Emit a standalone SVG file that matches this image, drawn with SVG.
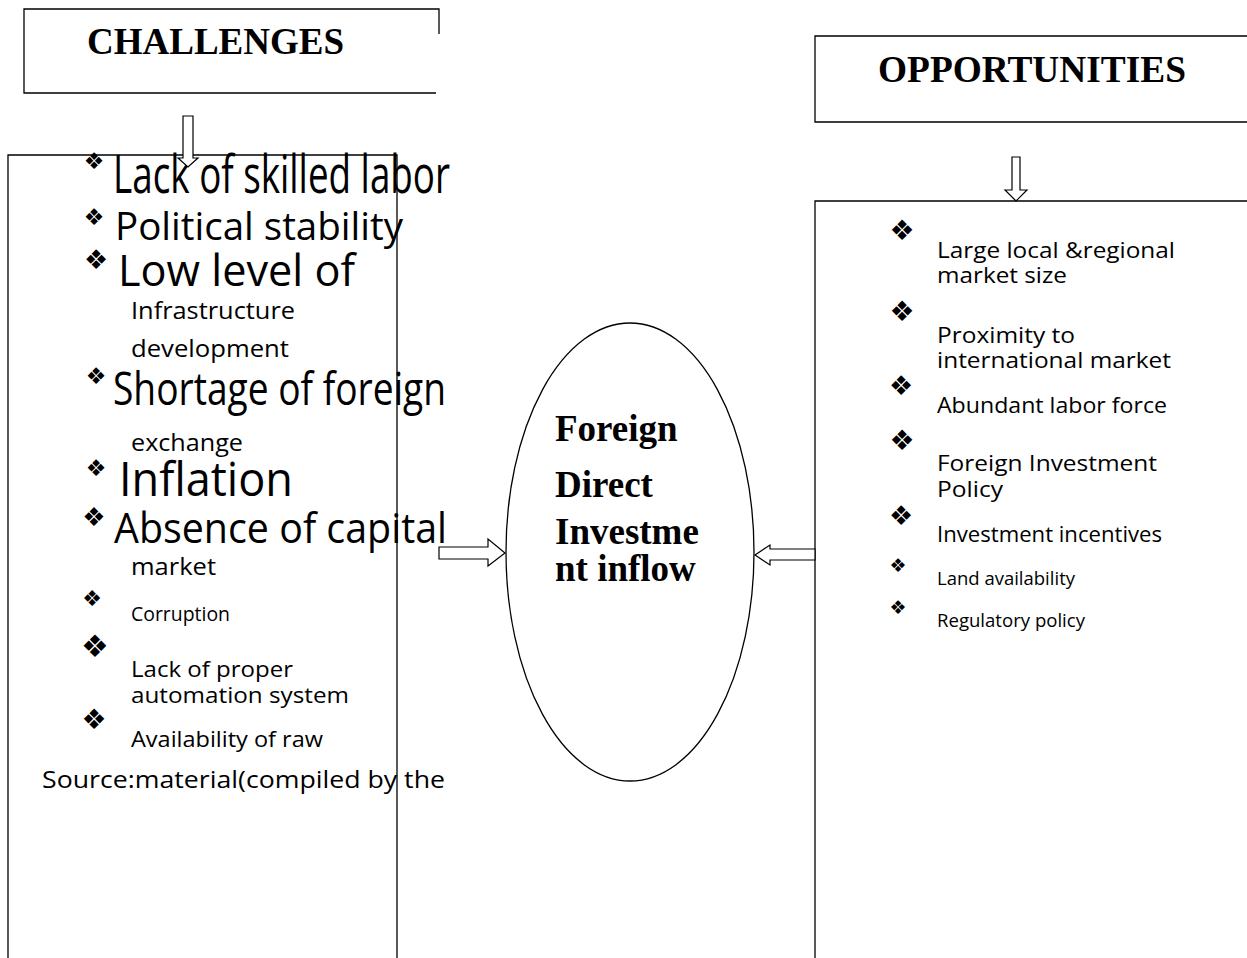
<svg xmlns="http://www.w3.org/2000/svg" width="1247" height="958" viewBox="0 0 1247 958">
  <style>
    .frame { fill: none; stroke: #000; stroke-width: 1.3; }
    .arrow { fill: #fff; stroke: #000; stroke-width: 1.2; stroke-linejoin: miter; }
    .title { font-family: "Liberation Serif", "Times New Roman", serif; font-weight: bold; font-size: 37px; fill: #000; }
    .item { font-family: "Open Sans", "Noto Sans", sans-serif; fill: #000; }
    .bul { font-family: "DejaVu Sans", sans-serif; fill: #000; text-anchor: middle; dominant-baseline: central; }
  </style>

  <rect x="0" y="0" width="1247" height="958" fill="#fff"/>

  <!-- Challenges heading box (right side left open below the corner) -->
  <g id="challenges-title">
    <polyline class="frame" points="439,34 439,9 24,9 24,93 436,93"/>
    <text class="title" x="87" y="54" textLength="257" lengthAdjust="spacingAndGlyphs">CHALLENGES</text>
  </g>

  <!-- Challenges list panel -->
  <g id="challenges-list">
    <polyline class="frame" points="8,958 8,155 397,155 397,958"/>
    <text class="bul" x="94" y="161" font-size="23">❖</text>
    <text class="item" x="113" y="193" font-size="53" textLength="337" lengthAdjust="spacingAndGlyphs">Lack of skilled labor</text>
    <text class="bul" x="94" y="217" font-size="23">❖</text>
    <text class="item" x="115" y="240" font-size="38" textLength="288" lengthAdjust="spacingAndGlyphs">Political stability</text>
    <text class="bul" x="96" y="259" font-size="27">❖</text>
    <text class="item" x="118" y="286" font-size="43" textLength="237" lengthAdjust="spacingAndGlyphs">Low level of</text>
    <text class="item" x="131" y="319" font-size="24" textLength="164" lengthAdjust="spacingAndGlyphs">Infrastructure</text>
    <text class="item" x="131" y="357" font-size="24" textLength="158" lengthAdjust="spacingAndGlyphs">development</text>
    <text class="bul" x="96" y="376" font-size="23">❖</text>
    <text class="item" x="113" y="405" font-size="46" textLength="333" lengthAdjust="spacingAndGlyphs">Shortage of foreign</text>
    <text class="item" x="131" y="451" font-size="24" textLength="112" lengthAdjust="spacingAndGlyphs">exchange</text>
    <text class="bul" x="96" y="468" font-size="23">❖</text>
    <text class="item" x="119" y="496" font-size="48" textLength="174" lengthAdjust="spacingAndGlyphs">Inflation</text>
    <text class="bul" x="94" y="517" font-size="26">❖</text>
    <text class="item" x="114" y="543" font-size="42" textLength="333" lengthAdjust="spacingAndGlyphs">Absence of capital</text>
    <text class="item" x="131" y="575" font-size="24" textLength="85" lengthAdjust="spacingAndGlyphs">market</text>
    <text class="bul" x="92" y="598" font-size="22">❖</text>
    <text class="item" x="131" y="621" font-size="20" textLength="99" lengthAdjust="spacingAndGlyphs">Corruption</text>
    <text class="bul" x="95" y="646" font-size="31">❖</text>
    <text class="item" x="131" y="677" font-size="22" textLength="162" lengthAdjust="spacingAndGlyphs">Lack of proper</text>
    <text class="item" x="131" y="703" font-size="22" textLength="218" lengthAdjust="spacingAndGlyphs">automation system</text>
    <text class="bul" x="94" y="719" font-size="28">❖</text>
    <text class="item" x="131" y="747" font-size="22" textLength="192" lengthAdjust="spacingAndGlyphs">Availability of raw</text>
    <text class="item" x="42" y="788" font-size="23" textLength="403" lengthAdjust="spacingAndGlyphs">Source:material(compiled by the</text>
  </g>

  <!-- Central FDI ellipse -->
  <g id="fdi-inflow">
    <ellipse class="frame" cx="630" cy="552" rx="124" ry="229"/>
    <text class="title" x="555" y="441">Foreign</text>
    <text class="title" x="555" y="497">Direct</text>
    <text class="title" x="555" y="544">Investme</text>
    <text class="title" x="555" y="581">nt inflow</text>
  </g>

  <!-- Opportunities heading box -->
  <g id="opportunities-title">
    <polyline class="frame" points="1247,36 815,36 815,122 1247,122"/>
    <text class="title" x="878" y="82" textLength="308" lengthAdjust="spacingAndGlyphs">OPPORTUNITIES</text>
  </g>

  <!-- Opportunities list panel -->
  <g id="opportunities-list">
    <polyline class="frame" points="815,958 815,201 1247,201"/>
    <text class="bul" x="902" y="230" font-size="28">❖</text>
    <text class="item" x="937" y="258" font-size="22" textLength="238" lengthAdjust="spacingAndGlyphs">Large local &amp;regional</text>
    <text class="item" x="937" y="283" font-size="22" textLength="130" lengthAdjust="spacingAndGlyphs">market size</text>
    <text class="bul" x="902" y="311" font-size="28">❖</text>
    <text class="item" x="937" y="343" font-size="22" textLength="138" lengthAdjust="spacingAndGlyphs">Proximity to</text>
    <text class="item" x="937" y="368" font-size="22" textLength="234" lengthAdjust="spacingAndGlyphs">international market</text>
    <text class="bul" x="901" y="385" font-size="27">❖</text>
    <text class="item" x="937" y="413" font-size="22" textLength="230" lengthAdjust="spacingAndGlyphs">Abundant labor force</text>
    <text class="bul" x="902" y="440" font-size="28">❖</text>
    <text class="item" x="937" y="471" font-size="22" textLength="220" lengthAdjust="spacingAndGlyphs">Foreign Investment</text>
    <text class="item" x="937" y="497" font-size="22" textLength="66" lengthAdjust="spacingAndGlyphs">Policy</text>
    <text class="bul" x="901" y="515" font-size="27">❖</text>
    <text class="item" x="937" y="542" font-size="22" textLength="225" lengthAdjust="spacingAndGlyphs">Investment incentives</text>
    <text class="bul" x="898" y="565" font-size="19">❖</text>
    <text class="item" x="937" y="585" font-size="18" textLength="138" lengthAdjust="spacingAndGlyphs">Land availability</text>
    <text class="bul" x="898" y="607" font-size="19">❖</text>
    <text class="item" x="937" y="627" font-size="18" textLength="148" lengthAdjust="spacingAndGlyphs">Regulatory policy</text>
  </g>

  <!-- Block arrows -->
  <g id="connectors">
    <polygon class="arrow" points="183,116 193,116 193,158 198,158 188,167 178,158 183,158"/>
    <polygon class="arrow" points="1012,157 1020,157 1020,190 1027,190 1016,201 1005,190 1012,190"/>
    <polygon class="arrow" points="439,547 488,547 488,539 505,553 488,566 488,559 439,559"/>
    <polygon class="arrow" points="815,549 770,549 770,545 755,555 770,565 770,560 815,560"/>
  </g>
</svg>
